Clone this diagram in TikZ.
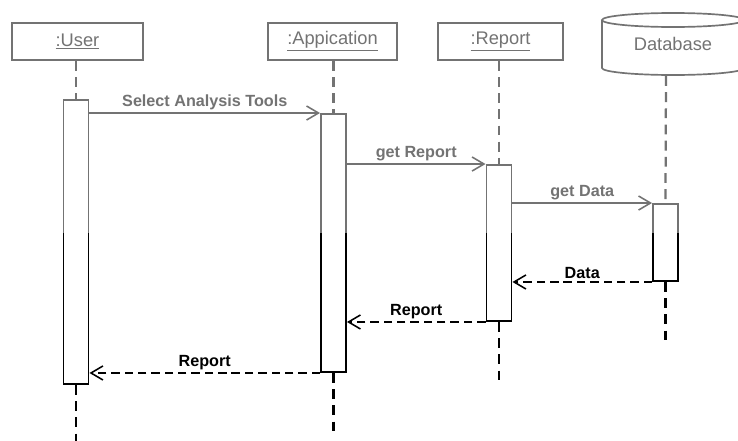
\documentclass[tikz,border=0pt]{standalone}
\usepackage{fontspec}
\setmainfont{Liberation Sans}
\usetikzlibrary{arrows.meta,calc}
\newcommand\pxu{0.025cm}
\begin{document}
\begin{tikzpicture}[x=0.025cm,y=-0.025cm,
  objbox/.style={draw, line width=1.2pt, fill=white, minimum width=#1*\pxu,
    minimum height=37*\pxu, inner sep=0pt, font=\fontsize{13}{15}\selectfont},
  actbar/.style={draw, fill=white, line width=1.4pt, minimum width=25*\pxu,
    minimum height=#1*\pxu, inner sep=0pt},
  lifeline/.style={line width=1.6pt, dash pattern=on 7pt off 4.5pt},
  msg/.style={line width=1.1pt, -{Straight Barb[length=8.5pt,width=10pt,line width=1.1pt]}},
  reply/.style={msg, dash pattern=on 6pt off 3.5pt},
  lbl/.style={font=\bfseries\fontsize{11.5}{14}\selectfont, inner sep=2pt, above}]
  \clip (0,0) rectangle (738,441);
  \fill[white] (0,0) rectangle (738,441);

  % object heads
  \node[objbox=131] (user) at (77.5,41.5) {\underline{:User}};
  \node[objbox=129] (app)  at (332.5,41.5) {\underline{:Appication}};
  \node[objbox=125] (rep)  at (500.5,41.5) {\underline{:Report}};

  % database cylinder
  \draw[line width=1.2pt, fill=white] (602,20) -- (602,68)
    arc[start angle=180, end angle=360, x radius=71*\pxu, y radius=7*\pxu] -- (744,20);
  \draw[line width=1.2pt] (673,20) ellipse [x radius=71*\pxu, y radius=7*\pxu];
  \node[font=\fontsize{13}{15}\selectfont] (db) at (673,44) {Database};
  \coordinate (dbfoot) at (666,76);

  % activation bars
  \node[actbar=284] (uact) at (76,242) {};
  \node[actbar=258] (aact) at (333.5,243) {};
  \node[actbar=156] (ract) at (499,243) {};
  \node[actbar=77]  (dact) at (665.5,242.5) {};

  % lifeline ends
  \coordinate (uend) at (76,445);
  \coordinate (aend) at (333.5,434);
  \coordinate (rend) at (499,380);
  \coordinate (dend) at (665.5,340);

  % lifelines
  \draw[lifeline] (user.south -| uact) -- (uact.north);
  \draw[lifeline] (uact.south) -- (uend);
  \draw[lifeline] (app.south -| aact) -- (aact.north);
  \draw[lifeline] (aact.south) -- (aend);
  \draw[lifeline] (rep.south -| ract) -- (ract.north);
  \draw[lifeline] (ract.south) -- (rend);
  \draw[lifeline] (dbfoot) -- (dact.north);
  \draw[lifeline] (dact.south) -- (dend);

  % messages
  \draw[msg] (uact.east |- aact.north) -- node[lbl] {Select Analysis Tools} (aact.north west);
  \draw[msg] (aact.east |- ract.north) -- node[lbl] {get Report} (ract.north west);
  \draw[msg] (ract.east |- dact.north) -- node[lbl] {get Data} (dact.north west);
  \draw[reply] (dact.south west) -- node[lbl] {Data} (ract.east |- dact.south);
  \draw[reply] (ract.south west) -- node[lbl] {Report} (aact.east |- ract.south);
  \draw[reply] (aact.south west) -- node[lbl] {Report} (uact.east |- aact.south);

  % faded upper band of the sheet
  \fill[white, opacity=0.45] (0,0) rectangle (738,233);
\end{tikzpicture}
\end{document}
